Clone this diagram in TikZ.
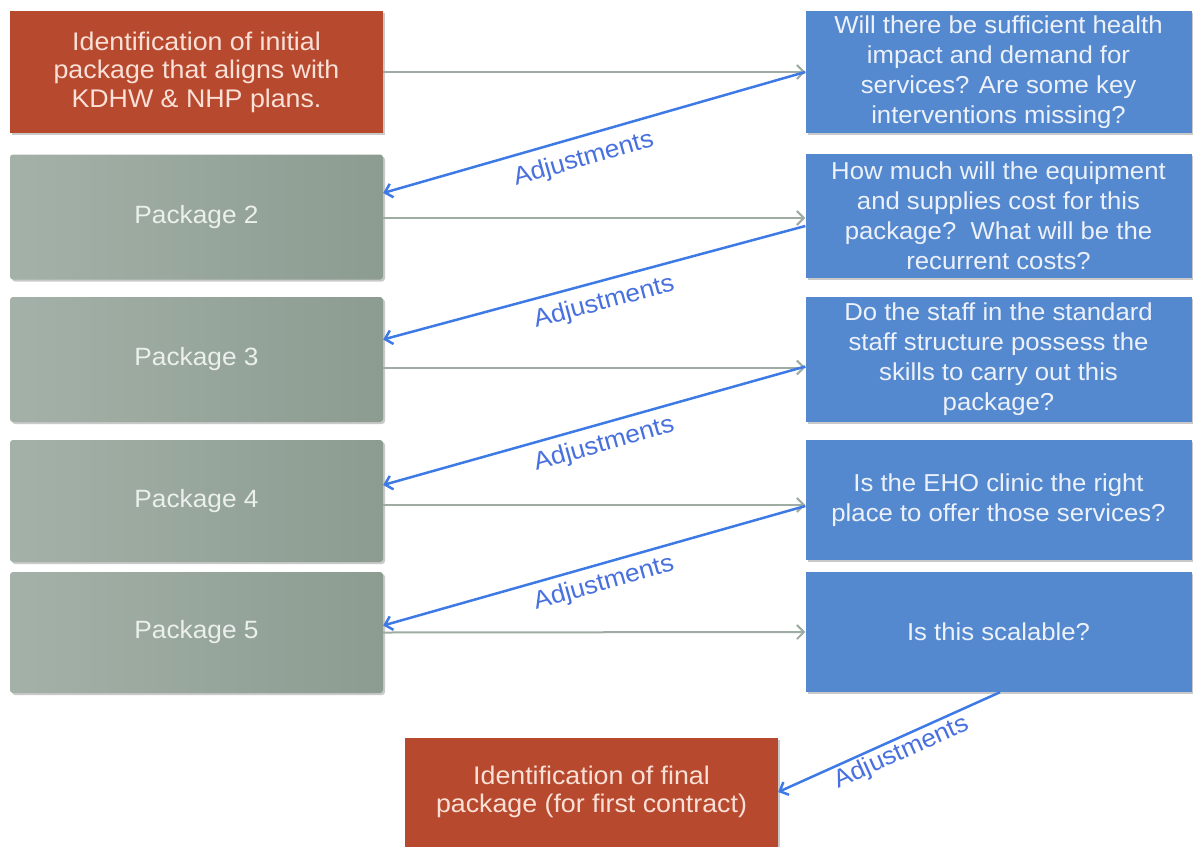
\documentclass[tikz,border=0pt]{standalone}
\usepackage{fontspec}
\setmainfont{Liberation Sans}[FakeStretch=1.05]
\usetikzlibrary{arrows.meta,shadows}
\definecolor{redbox}{RGB}{183,73,47}
\definecolor{redtext}{RGB}{250,224,214}
\definecolor{bluebox}{RGB}{85,137,207}
\definecolor{bluetext}{RGB}{236,241,250}
\definecolor{graylight}{RGB}{164,177,168}
\definecolor{graydark}{RGB}{140,156,145}
\definecolor{graytext}{RGB}{236,240,236}
\definecolor{grayarrow}{RGB}{158,172,163}
\definecolor{bluearrow}{RGB}{62,122,230}
\definecolor{adjtext}{RGB}{72,112,222}
\tikzset{
  boxshadow/.style={drop shadow={shadow xshift=2pt,shadow yshift=-2pt,opacity=0.35,fill=black!60}},
  redstep/.style={fill=redbox,text=redtext,minimum width=373pt,align=center,
    font=\fontsize{25.5}{28.5}\selectfont,boxshadow},
  pkgstep/.style={left color=graylight,right color=graydark,text=graytext,minimum width=373pt,
    rounded corners=3pt,font=\fontsize{25}{30}\selectfont,boxshadow},
  bluestep/.style={fill=bluebox,text=bluetext,minimum width=386pt,align=center,
    font=\fontsize{24.5}{30}\selectfont,boxshadow},
  grayconn/.style={draw=grayarrow,line width=2pt,-{Straight Barb[length=7pt,width=14pt,line width=2pt]}},
  blueconn/.style={draw=bluearrow,line width=2.5pt,-{Straight Barb[length=7pt,width=14pt,line width=2.5pt]}},
  adj/.style={text=adjtext,font=\fontsize{25}{30}\selectfont,inner sep=0pt,sloped}
}
\begin{document}
\begin{tikzpicture}[x=1pt,y=-1pt]
\useasboundingbox[fill=white] (0,0) rectangle (1193,846);
% left column
\node[redstep,minimum height=122pt] (p1) at (196.5,72) {Identification of initial\\package that aligns with\\KDHW \& NHP plans.};
\node[pkgstep,minimum height=125pt] (p2) at (196.5,217) {Package 2};
\node[pkgstep,minimum height=125pt] (p3) at (196.5,359.5) {Package 3};
\node[pkgstep,minimum height=122pt] (p4) at (196.5,501) {Package 4};
\node[pkgstep,minimum height=121pt] (p5) at (196.5,632.5) {Package 5};
% right column
\node[bluestep,minimum height=122pt] (r1) at (998.5,72) {Will there be sufficient health\\impact and demand for\\services? Are some key\\interventions missing?};
\node[bluestep,minimum height=124pt] (r2) at (998.5,216) {How much will the equipment\\and supplies cost for this\\package?\ \ What will be the\\recurrent costs?};
\node[bluestep,minimum height=125pt] (r3) at (998.5,359.5) {Do the staff in the standard\\staff structure possess the\\skills to carry out this\\package?};
\node[bluestep,minimum height=120pt] (r4) at (998.5,500) {Is the EHO clinic the right\\place to offer those services?};
\node[bluestep,minimum height=120pt] (r5) at (998.5,632) {Is this scalable?};
% final
\node[redstep,minimum height=109pt] (f) at (591.5,792) {Identification of final\\package (for first contract)};
% forward connectors
\draw[grayconn] (p1.east) -- (r1.west);
\draw[grayconn] ([yshift=-1pt]p2.east) -- ([yshift=-1pt]p2.east -| r2.west);
\draw[grayconn] ([yshift=-8pt]p3.east) -- ([yshift=-8pt]p3.east -| r3.west);
\draw[grayconn] ([yshift=-4pt]p4.east) -- ([yshift=-4pt]p4.east -| r4.west);
\draw[grayconn] (p5.east) -- (r5.west);
% adjustment connectors
\draw[blueconn] (r1.west) -- node[adj,below=10pt,pos=0.54] {Adjustments} ([yshift=24pt]p2.east);
\draw[blueconn] ([yshift=-10pt]r2.west) -- node[adj,below=9pt,pos=0.49] {Adjustments} ([yshift=20pt]p3.east);
\draw[blueconn] ([yshift=-7pt]r3.west) -- node[adj,below=8pt,pos=0.49] {Adjustments} ([yshift=16pt]p4.east);
\draw[blueconn] ([yshift=-6pt]r4.west) -- node[adj,below=7pt,pos=0.49] {Adjustments} ([yshift=7pt]p5.east);
\draw[blueconn] ([xshift=1.5pt]r5.south) -- node[adj,below=2pt,pos=0.47] {Adjustments} (f.east);
\end{tikzpicture}
\end{document}
